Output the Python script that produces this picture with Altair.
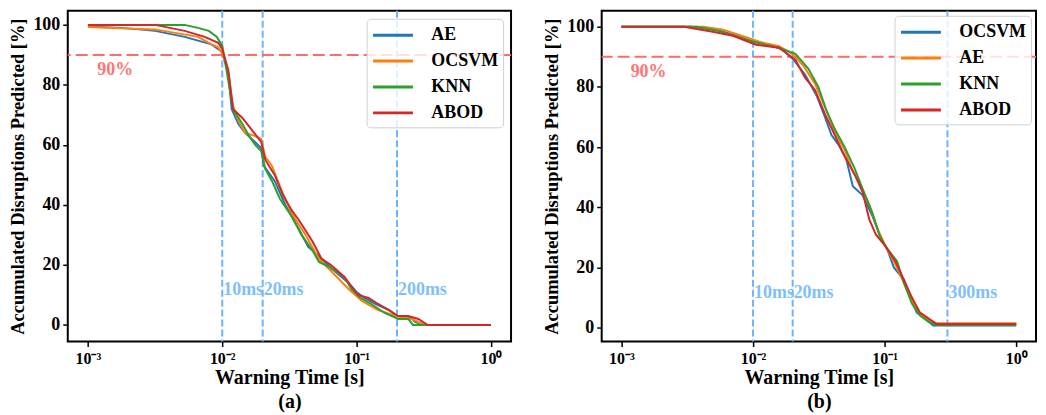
import altair as alt
import pandas as pd

FONT = "Liberation Serif"
COLORS = ["#1f77b4", "#ff7f0e", "#2ca02c", "#d62728"]

# ---------------- Panel (a) ----------------
a_models = ["AE", "OCSVM", "KNN", "ABOD"]
# log10 of warning time [s]  /  accumulated disruptions predicted [%]
a_ae_logt = [-3.0, -2.75, -2.5, -2.28, -2.08, -2.0, -1.955, -1.93, -1.88, -1.83, -1.78, -1.71, -1.69, -1.61,
             -1.53, -1.43, -1.36, -1.28, -1.19, -1.06, -1.0, -0.94, -0.86, -0.76, -0.70, -0.60, -0.565, -0.50, 0.0]
a_ae_pct = [99.5, 99.0, 98.0, 96.0, 93.5, 91.0, 84.0, 72.0, 67.0, 64.0, 62.0, 59.0, 53.0, 48.0,
            40.0, 32.0, 26.0, 23.0, 19.0, 14.0, 11.0, 9.0, 7.0, 5.0, 3.0, 2.5, 1.0, 0.0, 0.0]
a_ocsvm_logt = [-3.0, -2.5, -2.18, -2.08, -2.03, -2.0, -1.955, -1.92, -1.88, -1.83, -1.76, -1.71, -1.68,
                -1.63, -1.56, -1.48, -1.38, -1.28, -1.19, -1.06, -0.96, -0.84, -0.71, -0.59, -0.49, 0.0]
a_ocsvm_pct = [99.3, 98.5, 96.0, 93.5, 92.5, 90.5, 84.0, 73.0, 68.0, 64.0, 63.0, 62.0, 56.0,
               53.0, 45.0, 37.0, 30.0, 22.0, 18.0, 12.0, 8.0, 5.0, 3.0, 2.0, 0.0, 0.0]
a_knn_logt = [-3.0, -2.28, -2.18, -2.10, -2.04, -2.0, -1.98, -1.92, -1.85, -1.80, -1.755, -1.71, -1.68, -1.63,
              -1.57, -1.48, -1.41, -1.33, -1.28, -1.19, -1.09, -1.04, -0.97, -0.89, -0.79, -0.69, -0.615, -0.58, 0.0]
a_knn_pct = [100, 100, 99.0, 98.0, 96.0, 93.0, 88.0, 72.0, 67.0, 63.0, 60.0, 58.0, 52.0, 48.0,
             42.0, 36.0, 30.0, 25.0, 21.0, 19.0, 16.0, 12.0, 9.0, 7.0, 4.0, 2.0, 2.0, 0.0, 0.0]
a_abod_logt = [-3.0, -2.5, -2.28, -2.13, -2.03, -2.0, -1.955, -1.92, -1.85, -1.78, -1.71, -1.68, -1.61, -1.545,
               -1.48, -1.43, -1.33, -1.26, -1.19, -1.09, -1.04, -0.99, -0.91, -0.84, -0.76, -0.69, -0.615, -0.54, -0.47, 0.0]
a_abod_pct = [100, 100, 98.0, 96.0, 94.0, 92.0, 85.0, 72.0, 69.0, 65.0, 61.0, 55.0, 50.0, 43.0,
              38.0, 35.0, 28.0, 22.0, 20.0, 16.0, 13.0, 10.0, 9.0, 7.0, 5.0, 3.0, 3.0, 2.0, 0.0, 0.0]
a_vlines = [0.01, 0.02, 0.2]
a_vlabels = ["10ms", "20ms", "200ms"]

# ---------------- Panel (b) ----------------
b_models = ["OCSVM", "AE", "KNN", "ABOD"]
b_ocsvm_logt = [-3.0, -2.476, -2.277, -2.127, -2.0, -1.878, -1.778, -1.691, -1.604, -1.516, -1.454, -1.404, -1.354,
                -1.292, -1.242, -1.167, -1.092, -1.030, -0.980, -0.930, -0.855, -0.805, -0.756, -0.693, -0.631, 0.0]
b_ocsvm_pct = [100, 100, 99, 97, 95, 94, 92.5, 89, 84, 77, 70, 64, 61,
               56, 47, 44, 37, 30, 26, 20, 16, 10, 5, 3, 0.7, 0.7]
b_ae_logt = [-3.0, -2.376, -2.227, -2.052, -1.953, -1.803, -1.703, -1.616, -1.529, -1.441, -1.379, -1.304,
             -1.242, -1.180, -1.117, -1.055, -0.993, -0.918, -0.855, -0.793, -0.743, -0.681, -0.606, 0.0]
b_ae_pct = [100, 100, 99, 96.5, 95, 93.5, 91, 87, 81, 72, 65, 59,
            52, 47, 41, 33, 27, 21, 15, 9, 5, 3, 1.5, 1.5]
b_knn_logt = [-3.0, -2.426, -2.252, -2.077, -1.953, -1.803, -1.678, -1.579, -1.504, -1.441, -1.379, -1.304,
              -1.229, -1.167, -1.092, -1.042, -0.993, -0.905, -0.855, -0.793, -0.731, -0.668, -0.606, 0.0]
b_knn_pct = [100, 100, 98.5, 96, 94.5, 93, 91, 86, 80, 72, 66, 60,
             53, 46, 38, 31, 27, 22, 15, 8, 4, 2, 1, 1]
b_abod_logt = [-3.0, -2.526, -2.327, -2.152, -1.978, -1.803, -1.678, -1.604, -1.529, -1.454, -1.379, -1.304,
               -1.229, -1.167, -1.117, -1.067, -0.993, -0.918, -0.855, -0.793, -0.731, -0.681, -0.606, 0.0]
b_abod_pct = [100, 100, 98.5, 97, 94, 93, 89, 83, 79, 71, 64, 57,
              51, 45, 36, 31, 27, 22, 16, 10, 5, 3.5, 1.2, 1.2]
b_vlines = [0.01, 0.02, 0.3]
b_vlabels = ["10ms", "20ms", "300ms"]

X_TICKS = [0.001, 0.01, 0.1, 1]
Y_TICKS = [0, 20, 40, 60, 80, 100]
THRESH = 90


def make_panel(models, logts, pcts, ydom, vlines, vlabels, sub, width, legend_offset):
    rows = []
    for m, lt, pc in zip(models, logts, pcts):
        for l, p in zip(lt, pc):
            rows.append({"model": m, "t": 10 ** l, "pct": p})
    df = pd.DataFrame(rows)

    xs = alt.Scale(type="log", domain=[10 ** -3.15, 10 ** 0.15], nice=False)
    ys = alt.Scale(domain=ydom, nice=False, zero=False)
    x_enc = alt.X("t:Q", scale=xs, axis=alt.Axis(
        values=X_TICKS,
        labelExpr="datum.value < 0.005 ? '10⁻³' : datum.value < 0.05 ? '10⁻²' : datum.value < 0.5 ? '10⁻¹' : '10⁰'",
        labelFontSize=16, labelPadding=4,
        title=["Warning Time [s]", sub], titleFontSize=20, titleLineHeight=24, titlePadding=1))
    y_enc = alt.Y("pct:Q", scale=ys, axis=alt.Axis(
        values=Y_TICKS, title="Accumulated Disruptions Predicted [%]", labelFontSize=18,
        titleFontSize=18.5, labelPadding=3, titlePadding=5))

    lines = alt.Chart(df).mark_line(strokeWidth=2, clip=True).encode(
        x=x_enc, y=y_enc,
        color=alt.Color("model:N", sort=models,
                        scale=alt.Scale(domain=models, range=COLORS),
                        legend=alt.Legend(title=None, orient="top-right", offset=legend_offset)),
    )

    vdf = pd.DataFrame({"t": vlines, "label": vlabels, "pct": [11.5] * len(vlines)})
    vrules = alt.Chart(vdf).mark_rule(color="#6cb4fc", strokeWidth=2, strokeDash=[7, 3]).encode(x=x_enc)
    vtext = alt.Chart(vdf).mark_text(align="left", baseline="middle", dx=1, font=FONT, fontWeight="bold",
                                     fontSize=18, color="#80bffb").encode(x=x_enc, y=y_enc, text="label:N")

    hdf = pd.DataFrame({"pct": [THRESH], "t": [10 ** -2.93], "label": ["90%"], "ty": [85.0]})
    hrule = alt.Chart(hdf).mark_rule(color="#ff6b6b", strokeWidth=2, strokeDash=[12, 5]).encode(y=y_enc)
    htext = alt.Chart(hdf).mark_text(align="left", baseline="middle", font=FONT, fontWeight="bold",
                                     fontSize=18, color="#ff7575").encode(
        x=x_enc, y=alt.Y("ty:Q", scale=ys), text="label:N")

    return alt.layer(vrules, hrule, vtext, htext, lines).properties(width=width, height=332)


pa = make_panel(a_models, [a_ae_logt, a_ocsvm_logt, a_knn_logt, a_abod_logt],
                [a_ae_pct, a_ocsvm_pct, a_knn_pct, a_abod_pct],
                [-5.5, 104.7], a_vlines, a_vlabels, "(a)", 445, 8)
pb = make_panel(b_models, [b_ocsvm_logt, b_ae_logt, b_knn_logt, b_abod_logt],
                [b_ocsvm_pct, b_ae_pct, b_knn_pct, b_abod_pct],
                [-4.6, 105.3], b_vlines, b_vlabels, "(b)", 436, 5)

chart = alt.hconcat(pa, pb, spacing=29).resolve_scale(
    color="independent", x="independent", y="independent"
).properties(
    padding={"left": 0, "top": 0, "right": 0, "bottom": 0}
).configure_view(
    stroke="black", strokeWidth=2
).configure_axis(
    labelFont=FONT, labelFontWeight="bold", labelColor="black",
    titleFont=FONT, titleFontWeight="bold", titleColor="black",
    tickColor="black", tickSize=5, tickWidth=1.5, domain=False, grid=False
).configure_legend(
    labelFont=FONT, labelFontWeight="bold", labelFontSize=18, labelColor="black",
    symbolType="M-2,0H2", symbolStrokeWidth=3, symbolSize=400, symbolOffset=10, labelOffset=27,
    padding=5, rowPadding=5, strokeColor="#d0d0d0", cornerRadius=4,
    fillColor="rgba(255,255,255,0.8)"
)

chart.save("out.html", embed_options={"renderer": "svg", "actions": False})
